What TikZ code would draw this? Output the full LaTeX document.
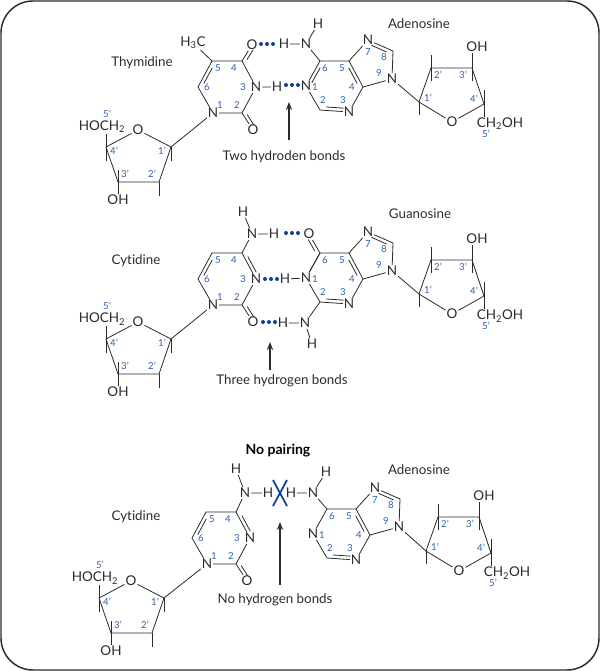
\documentclass[tikz,border=0pt]{standalone}
\usepackage{fontspec}
\setmainfont[Ligatures=NoCommon]{Lato}
\usetikzlibrary{calc,arrows.meta}
\definecolor{numblue}{HTML}{2F5FA8}
\definecolor{dotblue}{HTML}{0B3F9C}
\definecolor{ink}{HTML}{2B2B2B}
\tikzset{atom/.style={inner sep=0.6pt,font=\fontsize{10.1}{10}\selectfont,text=ink},
  num/.style={inner sep=0pt,font=\fontsize{7.2}{7}\selectfont,text=numblue},
  molname/.style={inner sep=0pt,font=\fontsize{10}{11}\selectfont,text=ink},
  bond/.style={draw=ink,line width=0.6pt},
  point/.style={draw=ink,line width=1.1pt,-{Stealth[length=6pt,width=4.6pt]}}}
% second line of a double bond, on the left of a to b
\newcommand{\inbond}[2]{\draw[bond] ($(#1)!.2!(#2)!2.6pt!90:(#2)$) -- ($(#1)!.8!(#2)!2.6pt!90:(#2)$);}
\tikzset{
  hdots/.pic={
    \foreach \d in {-6,0,6}
      \fill[dotblue] (\d,0) circle (1.5pt);
  },
  sugarl/.pic={
    \node[atom] (-O) at (138,130) {O};
    \node[atom] (-HO) at (102,127) {HOCH\textsubscript{2}};
    \node[atom] (-OH) at (118,200) {OH};
    \coordinate (-C1) at (171,147);
    \coordinate (-C2) at (159,182);
    \coordinate (-C3) at (118,182);
    \coordinate (-C4) at (106,147);
    \draw[bond] (-O) -- (-C1) -- (-C2) -- (-C3) -- (-C4) -- (-O);
    \draw[bond] (-C4) -- (-C4 |- -HO.south);
    \draw[bond] (-C4) -- +(0,14);
    \draw[bond] (-C1) -- +(0,14);
    \draw[bond] (-C2) -- +(0,14);
    \draw[bond] (-C3) -- +(0,-12);
    \draw[bond] (-C3) -- (-OH);
    \node[num] at (107,114) {5'};
    \node[num] at (114,151) {4'};
    \node[num] at (162,151) {1'};
    \node[num] at (125,174) {3'};
    \node[num] at (152,174) {2'};
  },
  sugarr/.pic={
    \node[atom] (-O) at (452,122) {O};
    \node[atom] (-OH) at (477,47) {OH};
    \node[atom] (-CH) at (500,124) {CH\textsubscript{2}OH};
    \coordinate (-C1) at (419,102);
    \coordinate (-C2) at (431,68);
    \coordinate (-C3) at (472,68);
    \coordinate (-C4) at (484,104);
    \draw[bond] (-O) -- (-C1) -- (-C2) -- (-C3) -- (-C4) -- (-O);
    \draw[bond] (-C1) -- +(0,13);
    \draw[bond] (-C2) -- +(0,-13);
    \draw[bond] (-C2) -- +(0,13);
    \draw[bond] (-C3) -- (-C3 |- -OH.south);
    \draw[bond] (-C3) -- +(0,13);
    \draw[bond] (-C4) -- +(0,-14);
    \draw[bond] (-C4) -- (-C4 |- -CH.north);
    \node[num] at (486,134) {5'};
    \node[num] at (474,99) {4'};
    \node[num] at (428,98) {1'};
    \node[num] at (438,75) {2'};
    \node[num] at (463,75) {3'};
  },
  pyrim/.pic={
    \node[atom] (-N1) at (213,113) {N};
    \node[atom] (-N3) at (256,87) {N};
    \node[atom] (-O2) at (253,130) {O};
    \coordinate (-C2) at (242,113);
    \coordinate (-C4) at (242,61);
    \coordinate (-C5) at (212,61);
    \coordinate (-C6) at (198,87);
    \draw[bond] (-N1) -- (-C2) -- (-N3) (-C4) -- (-C5) -- (-C6) -- (-N1);
    \draw[bond] (-C2) -- (-O2);
    \inbond{-C2}{-O2}
    \inbond{-C5}{-C6}
    \node[num] at (220,105) {1};
    \node[num] at (237,105) {2};
    \node[num] at (243,87) {3};
    \node[num] at (234,68) {4};
    \node[num] at (218,68) {5};
    \node[num] at (207,87) {6};
  },
  purine/.pic={
    \node[atom] (-N1) at (306,86) {N};
    \node[atom] (-N3) at (349,112) {N};
    \node[atom] (-N7) at (368,40) {N};
    \node[atom] (-N9) at (392,79) {N};
    \coordinate (-C2) at (320,110);
    \coordinate (-C4) at (363,87);
    \coordinate (-C5) at (349,61);
    \coordinate (-C6) at (320,61);
    \coordinate (-C8) at (393,51);
    \draw[bond] (-C6) -- (-N1) -- (-C2) -- (-N3) -- (-C4) -- (-C5) -- (-C6);
    \draw[bond] (-C5) -- (-N7) -- (-C8) -- (-N9) -- (-C4);
    \inbond{-C2}{-N3}
    \inbond{-C4}{-C5}
    \inbond{-C8}{-N7}
    \node[num] at (315,87) {1};
    \node[num] at (323,100) {2};
    \node[num] at (343,100) {3};
    \node[num] at (352,87) {4};
    \node[num] at (342,68) {5};
    \node[num] at (325,68) {6};
    \node[num] at (368,52) {7};
    \node[num] at (384,57) {8};
    \node[num] at (379,73) {9};
  }}
\begin{document}
\begin{tikzpicture}[x=0.75pt,y=-0.75pt]
\useasboundingbox (0,0) rectangle (600,671);
\draw[ink,line width=1.1pt,rounded corners=24pt] (1,1) rectangle (599,670);

% thymidine and adenosine
\node[molname] (thy) at (142,63) {Thymidine};
\node[molname] (ade) at (419,24) {Adenosine};
\pic (s1) at (0,0) {sugarl};
\pic (p1) at (0,0) {pyrim};
\pic (a1) at (0,0) {purine};
\pic (r1) at (0,0) {sugarr};
\node[atom] (ch3) at (193,43) {H\textsubscript{3}C};
\node[atom] (o4) at (252,45) {O};
\node[atom] (h3) at (277,87) {H};
\node[atom] (h6) at (284,44) {H};
\node[atom] (n6) at (306,44) {N};
\node[atom] (hh) at (318,24) {H};
\draw[bond] (s1-C1) -- (p1-N1) (p1-N3) -- (p1-C4) -- (o4) (p1-C5) -- (ch3);
\inbond{o4}{p1-C4}
\draw[bond] (p1-N3) -- (h3) (h6) -- (n6) -- (hh) (n6) -- (a1-C6);
\inbond{a1-C6}{a1-N1}
\draw[bond] (a1-N9) -- (r1-C1);
\pic at (267,44) {hdots};
\pic at (292,85) {hdots};
\coordinate (up1) at (289,102);
\coordinate (dn1) at (289,140);
\draw[point] (dn1) -- (up1);
\node[molname] (lab1) at (284,157) {Two hydroden bonds};

% cytidine and guanosine
\node[molname] (cyt) at (136,261) {Cytidine};
\node[molname] (gua) at (420,214) {Guanosine};
\pic (s2) at (0,192) {sugarl};
\pic (p2) at (0,192) {pyrim};
\pic (a2) at (0,192) {purine};
\pic (r2) at (0,192) {sugarr};
\node[atom] (n4) at (252,234) {N};
\node[atom] (h4) at (243,212) {H};
\node[atom] (h41) at (274,234) {H};
\node[atom] (o6) at (309,234) {O};
\node[atom] (h1) at (285,279) {H};
\node[atom] (h2) at (283,323) {H};
\node[atom] (n2) at (305,323) {N};
\node[atom] (h21) at (312,344) {H};
\draw[bond] (s2-C1) -- (p2-N1) (p2-N3) -- (p2-C4) -- (n4) -- (h41) (n4) -- (h4);
\inbond{p2-C4}{p2-N3}
\draw[bond] (o6) -- (a2-C6) (a2-C6) -- (a2-N1) -- (h1) (a2-C2) -- (n2) -- (h2) (n2) -- (h21);
\inbond{a2-C6}{o6}
\draw[bond] (a2-N9) -- (r2-C1);
\pic at (292,233) {hdots};
\pic at (271,279) {hdots};
\pic at (269,322) {hdots};
\coordinate (up2) at (270,342);
\coordinate (dn2) at (270,370);
\draw[point] (dn2) -- (up2);
\node[molname] (lab2) at (282,381) {Three hydrogen bonds};

% no pairing
\node[molname,font=\fontsize{10.5}{11}\bfseries\selectfont,text=black] (nop) at (278,451) {No pairing};
\node[molname] (cyt3) at (136,517) {Cytidine};
\node[molname] (ade3) at (419,470) {Adenosine};
\pic (s3) at (-7,451) {sugarl};
\pic (p3) at (-6,451) {pyrim};
\pic (a3) at (7,448) {purine};
\pic (r3) at (7,449) {sugarr};
\node[atom] (n43) at (245,493) {N};
\node[atom] (h43) at (236,469) {H};
\node[atom] (h44) at (268,493) {H};
\node[atom] (h63) at (291,493) {H};
\node[atom] (n63) at (313,493) {N};
\node[atom] (h64) at (326,472) {H};
\draw[bond] (s3-C1) -- (p3-N1) (p3-N3) -- (p3-C4) -- (n43) -- (h44) (n43) -- (h43);
\inbond{p3-C4}{p3-N3}
\draw[bond] (h63) -- (n63) -- (h64) (n63) -- (a3-C6);
\draw[bond] (a3-N9) -- (r3-C1);
\coordinate (xa) at (273,480);
\coordinate (xb) at (287,506);
\coordinate (xc) at (287,480);
\coordinate (xd) at (273,506);
\draw[dotblue,line width=1.3pt] (xa) -- (xb) (xc) -- (xd);
\coordinate (up3) at (280,522);
\coordinate (dn3) at (280,585);
\draw[point] (dn3) -- (up3);
\node[molname] (lab3) at (275,600) {No hydrogen bonds};
\end{tikzpicture}
\end{document}
